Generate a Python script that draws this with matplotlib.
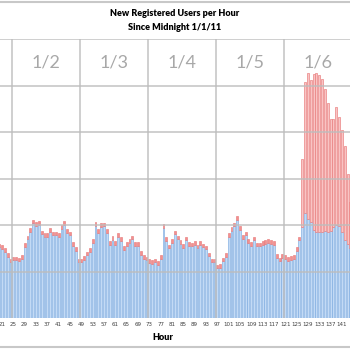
import matplotlib
matplotlib.use('Agg')
import matplotlib.pyplot as plt
from matplotlib.lines import Line2D

# hour index since midnight 1/1/11 (hour 1 = 00:00-01:00 on 1/1)
hours = list(range(20, 145))

# blue series: new registered users per hour (regular)
blue = [
    1.52, 1.49, 1.42, 1.32, 1.20, 1.24, 1.24, 1.22, 1.27, 1.53,   # 20-29
    1.69, 1.85, 2.04, 1.98, 2.01, 1.80, 1.75, 1.75, 1.85, 1.78,   # 30-39
    1.78, 1.75, 1.92, 2.01, 1.83, 1.78, 1.56, 1.45, 1.20, 1.20,   # 40-49
    1.25, 1.35, 1.42, 1.61, 1.98, 1.83, 1.96, 1.97, 1.83, 1.58,   # 50-59
    1.68, 1.58, 1.74, 1.66, 1.47, 1.55, 1.61, 1.69, 1.56, 1.56,   # 60-69
    1.36, 1.27, 1.24, 1.19, 1.17, 1.20, 1.15, 1.27, 1.94, 1.66,   # 70-79
    1.50, 1.61, 1.80, 1.69, 1.60, 1.51, 1.67, 1.56, 1.54, 1.58,   # 80-89
    1.50, 1.58, 1.52, 1.48, 1.33, 1.20, 1.20, 1.07, 1.08, 1.22,   # 90-99
    1.32, 1.74, 1.87, 1.97, 2.11, 1.90, 1.70, 1.78, 1.62, 1.56,   # 100-109
    1.67, 1.54, 1.54, 1.58, 1.60, 1.61, 1.60, 1.58, 1.30, 1.22,   # 110-119
    1.30, 1.27, 1.23, 1.25, 1.27, 1.44, 1.67, 1.95, 2.25, 2.14,   # 120-129
    2.07, 1.89, 1.86, 1.86, 1.86, 1.88, 1.86, 1.88, 1.95, 2.00,   # 130-139
    1.97, 1.86, 1.68, 1.60, 1.50,                                 # 140-144
]

# red series stacked on top
red = [
    0.08, 0.08, 0.08, 0.08, 0.08, 0.08, 0.08, 0.08, 0.08, 0.08,   # 20-29
    0.08, 0.08, 0.08, 0.08, 0.08, 0.08, 0.08, 0.08, 0.08, 0.08,   # 30-39
    0.08, 0.08, 0.08, 0.08, 0.08, 0.08, 0.08, 0.08, 0.08, 0.08,   # 40-49
    0.08, 0.08, 0.08, 0.08, 0.08, 0.08, 0.08, 0.08, 0.08, 0.08,   # 50-59
    0.08, 0.08, 0.08, 0.08, 0.08, 0.08, 0.08, 0.08, 0.08, 0.08,   # 60-69
    0.08, 0.08, 0.08, 0.08, 0.08, 0.08, 0.08, 0.08, 0.08, 0.08,   # 70-79
    0.08, 0.08, 0.08, 0.08, 0.08, 0.08, 0.08, 0.08, 0.08, 0.08,   # 80-89
    0.08, 0.08, 0.08, 0.08, 0.08, 0.08, 0.08, 0.08, 0.08, 0.08,   # 90-99
    0.08, 0.08, 0.08, 0.08, 0.08, 0.08, 0.08, 0.08, 0.08, 0.08,   # 100-109
    0.08, 0.08, 0.08, 0.08, 0.08, 0.08, 0.08, 0.08, 0.08, 0.08,   # 110-119
    0.08, 0.08, 0.08, 0.08, 0.08, 0.08, 0.08, 1.48, 2.83, 3.14,   # 120-129
    3.05, 3.36, 3.42, 3.38, 3.28, 3.06, 2.76, 2.41, 2.34, 2.54,   # 130-139
    2.36, 2.18, 2.02, 1.50, 1.00,                                 # 140-144
]

day_labels = ['1/2', '1/3', '1/4', '1/5', '1/6']
day_starts = [25, 49, 73, 97, 121]
tick_hours = list(range(21, 145, 4))

W, H = 350, 350
fig = plt.figure(figsize=(3.5, 3.5), dpi=100)
fig.patch.set_facecolor('white')

base_px, top_px = 318, 39.3
ax = fig.add_axes([0, (H - base_px) / H, 1, (base_px - top_px) / H])
ax.set_xlim(20.31, 143.85)
ax.set_ylim(0, 6)
ax.set_facecolor('white')

red_face = ['#f9c4c4' if r > 0.5 else '#f29090' for r in red]
red_edge = ['#e87a7a' if r > 0.5 else '#e87c7c' for r in red]

ax.bar(hours, blue, width=0.66, color='#c3daf5', edgecolor='#7eabe0',
       linewidth=0.45, zorder=2)
ax.bar(hours, red, bottom=blue, width=0.66, color=red_face,
       edgecolor=red_edge, linewidth=0.45, zorder=2)

grid_c = '#bdbdbd'
for yv in range(1, 7):
    ax.axhline(yv, color=grid_c, lw=1.2, alpha=0.85, zorder=3)
for d in day_starts:
    ax.axvline(d - 0.5, color=grid_c, lw=1.2, alpha=0.85, zorder=3)

for d, lab in zip(day_starts, day_labels):
    ax.text(d + 11.5, 5.5, lab, ha='center', va='center', fontsize=13,
            color='#a8a8a8', family='Lato', zorder=4)

for s in ax.spines.values():
    s.set_visible(False)
ax.set_yticks([])
ax.set_xticks(tick_hours)
ax.set_xticklabels([str(t) for t in tick_hours], fontsize=4, color='#404040')
ax.tick_params(axis='x', length=0, pad=3)

fig.text(0.5, 1 - 14 / H, 'New Registered Users per Hour', ha='center',
         va='center', fontsize=6.5, fontweight='heavy', family='Lato')
fig.text(0.5, 1 - 27 / H, 'Since Midnight 1/1/11', ha='center',
         va='center', fontsize=6.5, fontweight='heavy', family='Lato')
fig.text(163 / W, 1 - 337 / H, 'Hour', ha='center', va='center',
         fontsize=6.5, fontweight='heavy', family='Lato')

for ypx in (1.5, 347):
    fig.add_artist(Line2D([0, 1], [1 - ypx / H, 1 - ypx / H],
                          transform=fig.transFigure, color='#c8c8c8', lw=1.5))

fig.savefig('out.png', dpi=100, facecolor='white')
